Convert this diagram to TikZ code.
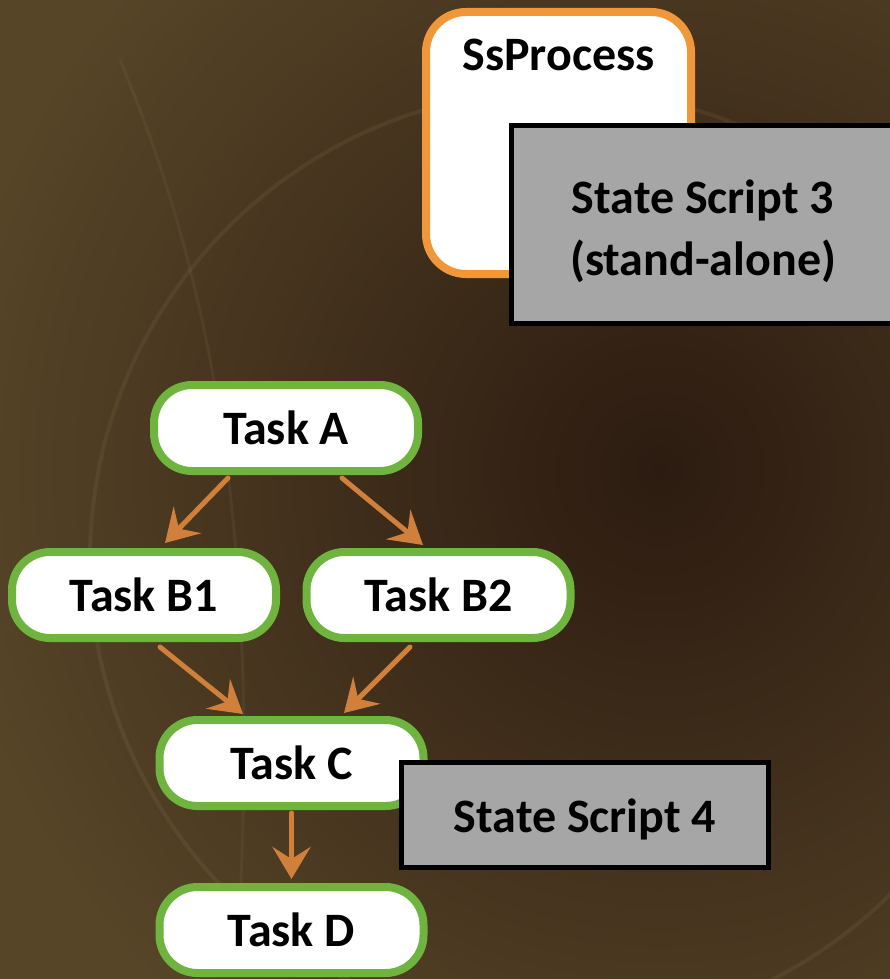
\documentclass[tikz,border=0pt]{standalone}
\usepackage{fontspec}
\setmainfont{Carlito}
\usetikzlibrary{arrows.meta,calc}
\definecolor{taskgreen}{HTML}{6EB43F}
\definecolor{ssorange}{HTML}{F0973A}
\definecolor{ssgray}{HTML}{A6A6A6}
\definecolor{arrorange}{HTML}{D0803A}
\definecolor{bgdark}{HTML}{2C1B10}
\definecolor{bgolive}{HTML}{574528}
\definecolor{bgtan}{HTML}{B09A70}
\tikzset{
  every node/.style={font=\fontsize{48}{62}\selectfont\bfseries, text=black},
  taskbox/.style={draw=taskgreen, line width=8pt, fill=white, rounded corners=38pt,
    minimum width=264pt, minimum height=86pt, inner sep=0pt},
  procbox/.style={draw=ssorange, line width=8pt, fill=white, rounded corners=40pt,
    minimum width=265pt, minimum height=262pt, inner sep=0pt},
  scriptbox/.style={draw=black, line width=5pt, fill=ssgray, inner sep=0pt},
  flow/.style={draw=arrorange, line width=5pt, line cap=round,
    -{Stealth[length=32pt, width=38pt, inset=12pt]}},
  plain/.style={inner sep=0pt, align=center}
}
\begin{document}
\begin{tikzpicture}[x=1pt, y=-1pt]
  \useasboundingbox (0,0) rectangle (890,979);
  % background
  \begin{scope}
    \clip (0,0) rectangle (890,979);
    \fill[bgolive] (0,0) rectangle (890,979);
    \shade[inner color=bgdark, outer color=bgolive] (660,470) circle (720);
    \draw[bgtan, opacity=0.11, line width=4pt] (560,560) circle (470);
    \draw[bgtan, opacity=0.09, line width=3pt] (120,60) .. controls (200,250) and (260,500) .. (240,900);
  \end{scope}

  % SsProcess with State Script 3
  \node[procbox] (ssp) at (558.5,143) {};
  \node[plain] (ssptext) at (558.5,55) {SsProcess};
  \node[scriptbox, minimum width=384pt, minimum height=198pt] (ss3) at (703,224.5) {};
  \node[plain] (ss3text) at (703,231) {State Script 3\\(stand-alone)};

  % tasks
  \node[taskbox] (ta) at (286,428) {Task A};
  \node[taskbox] (tb1) at (144,595) {Task B1};
  \node[taskbox] (tb2) at (438.5,595) {Task B2};
  \node[taskbox] (tc) at (291.5,763) {Task C};
  \node[taskbox] (td) at (291.5,930) {Task D};
  \node[scriptbox, minimum width=367pt, minimum height=105pt] (ss4) at (585,815) {};
  \node[plain] (ss4text) at (585,819) {State Script 4};

  % connectors
  \draw[flow] ($(ta.south)+(-58,3)$) -- ($(tb1.north)+(21,-5)$);
  \draw[flow] ($(ta.south)+(56,3)$) -- ($(tb2.north)+(-15.5,-3)$);
  \draw[flow] ($(tb1.south)+(16,5)$) -- ($(tc.north)+(-48.5,-2)$);
  \draw[flow] ($(tb2.south)+(-28.5,5)$) -- ($(tc.north)+(52.5,-3)$);
  \draw[flow] ($(tc.south)+(0,3)$) -- ($(td.north)+(0,-4)$);
\end{tikzpicture}
\end{document}
